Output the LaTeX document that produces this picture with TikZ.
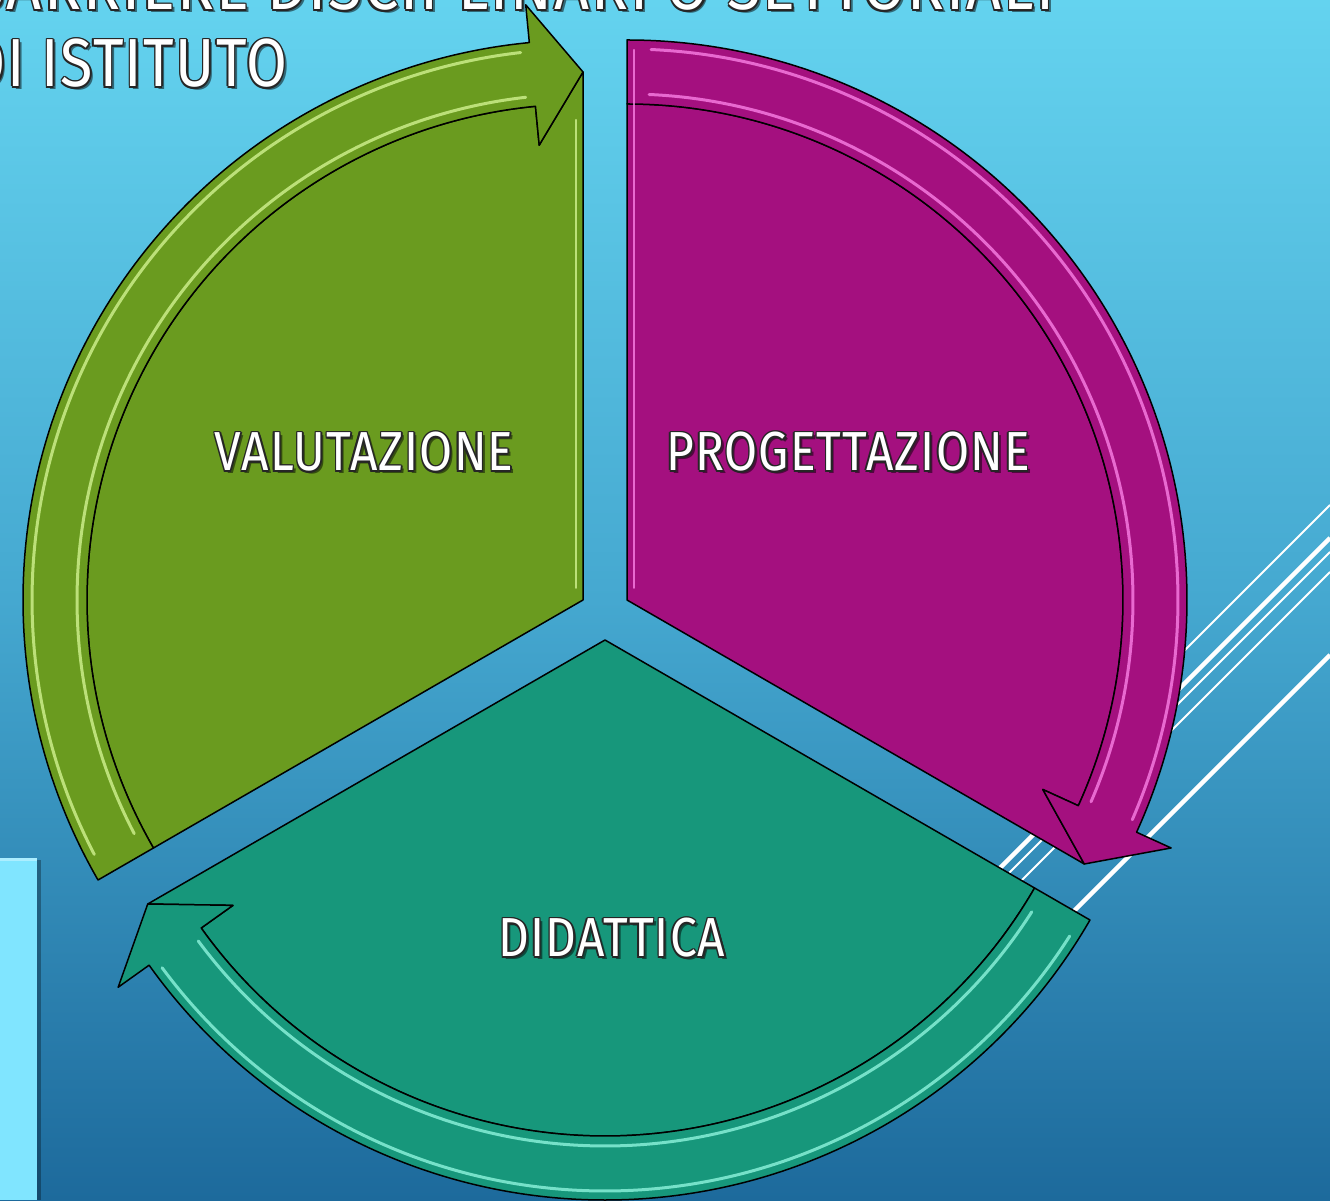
\documentclass[tikz,border=0pt]{standalone}
\usepackage{fontspec}
\newfontfamily\lblfont[FakeStretch=0.87, LetterSpace=2]{Fira Sans}
\newfontfamily\titlefontA[FakeStretch=0.9, LetterSpace=3]{Fira Sans}
\newfontfamily\titlefontB[FakeStretch=0.87, LetterSpace=2]{Fira Sans}
\usetikzlibrary{calc}

\definecolor{bgtop}{HTML}{64D3EF}
\definecolor{bgmid}{HTML}{45A8D0}
\definecolor{bgbot}{HTML}{1D6A9C}
\definecolor{greenseg}{HTML}{6A9B1F}
\definecolor{magseg}{HTML}{A4107F}
\definecolor{tealseg}{HTML}{17977B}
\definecolor{greenhi}{HTML}{D8F898}
\definecolor{maghi}{HTML}{FF88EC}
\definecolor{tealhi}{HTML}{96FAE4}
\definecolor{sidebar}{HTML}{80E5FF}

% white lettering with a dark rim and a soft drop shadow
\newcommand\outlined[4]{%
  \node[#3, text=black, opacity=0.5, xshift=3pt, yshift=-3pt] (#1-shadow) at #2 {#4};
  \foreach \ang [count=\k] in {0,45,...,315}
    \node[#3, text=black!85, shift={(\ang:1.5pt)}] (#1-rim\k) at #2 {#4};
  \node[#3, text=white] (#1) at #2 {#4};
}

% one pie segment: body plus the curved arrow running clockwise along its rim
% #1 vertex, #2 start angle, #3 fill, #4 highlight colour
\newcommand\segment[4]{%
  \begin{scope}[shift={#1}]
    \pgfmathsetmacro\segEnd{#2-120}
    \pgfmathsetmacro\segBase{#2-114.5}
    \filldraw[segline, fill=#3] (0,0) -- (#2:496)
      arc[start angle=#2, end angle=\segBase, radius=496]
      -- (\segBase:457) -- (\segEnd:528) -- cycle;
    \filldraw[segline, fill=#3] (#2:496) -- (#2:560)
      arc[start angle=#2, end angle=\segBase, radius=560]
      -- (\segBase:598) -- (\segEnd:528) -- (\segBase:457) -- (\segBase:496)
      arc[start angle=\segBase, end angle=#2, radius=496] -- cycle;
    \draw[hiline=#4] (#2-2.5:506) arc[start angle=#2-2.5, end angle=\segBase+1, radius=506];
    \draw[hiline=#4] (#2-2.5:551) arc[start angle=#2-2.5, end angle=\segBase+1, radius=551];
  \end{scope}}

\begin{document}
\begin{tikzpicture}[x=1pt,y=1pt,
  segline/.style={draw=black, line width=1.5pt, line join=round},
  hiline/.style={draw=#1, line width=3pt, line cap=round, opacity=0.75},
  deco/.style={draw=white, line width=#1},
  lbl/.style={inner sep=0pt, outer sep=0pt, font=\lblfont\fontsize{55}{60}\selectfont},
  ttl/.style={inner sep=0pt, outer sep=0pt, font=#1\fontsize{68}{74}\selectfont},
]
\useasboundingbox (0,0) rectangle (1330,1200);
\clip (0,0) rectangle (1330,1200);

% background
\shade[top color=bgtop, bottom color=bgbot, middle color=bgmid] (0,0) rectangle (1330,1200);

% diagonal accent lines on the right
\draw[deco=2pt]   (1330,695) -- (1100,465);
\draw[deco=4.5pt] (1330,662) -- (975,307);
\draw[deco=2pt]   (1330,648) -- (975,293);
\draw[deco=2pt]   (1330,628) -- (975,273);
\draw[deco=4.5pt] (1330,545) -- (1060,275);

% side bar at the lower left
\fill[black, opacity=0.3] (37,0) rectangle (41,340);
\fill[sidebar] (0,0) rectangle (37,342);
\fill[white, opacity=0.35] (0,339) rectangle (37,342);

% title
\outlined{title1}{(-32,1190)}{ttl=\titlefontA, anchor=base west}{BARRIERE DISCIPLINARI O SETTORIALI}
\outlined{title2}{(-32,1113)}{ttl=\titlefontB, anchor=base west}{DI ISTITUTO}

% cycle
\segment{(627,600)}{90}{magseg}{maghi}
\segment{(583,600)}{210}{greenseg}{greenhi}
\segment{(605,560)}{330}{tealseg}{tealhi}

% bevel glints along the straight edges
\draw[hiline=maghi, line width=2pt] (634,612) -- (634,1150);
\draw[hiline=greenhi, line width=2pt] (576,612) -- (576,1080);

% labels
\outlined{valutazione}{(364,748)}{lbl}{VALUTAZIONE}
\outlined{progettazione}{(848,748)}{lbl}{PROGETTAZIONE}
\outlined{didattica}{(612,262)}{lbl}{DIDATTICA}
\end{tikzpicture}
\end{document}
